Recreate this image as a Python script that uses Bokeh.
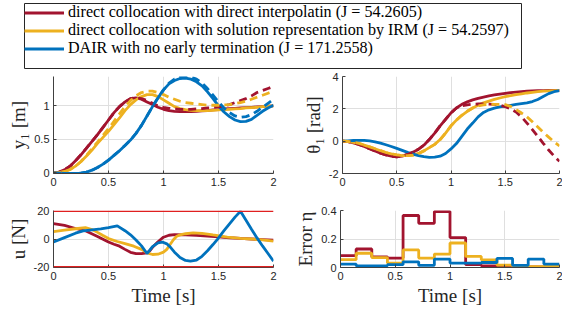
from bokeh.plotting import figure
from bokeh.layouts import column, row
from bokeh.models import Legend, LegendItem, FixedTicker, Range1d, Span
from bokeh.embed import file_html
from bokeh.resources import INLINE

RED = "#A2142F"
YEL = "#EDB120"
BLU = "#0072BD"

LEGEND_LABELS = [
    "direct collocation with direct interpolatin (J = 54.2605)",
    "direct collocation with solution representation by IRM (J = 54.2597)",
    "DAIR with no early termination (J = 171.2558)",
]

T = [0.0, 0.05, 0.1, 0.15, 0.2, 0.25, 0.3, 0.35, 0.4, 0.45, 0.5, 0.55, 0.6, 0.65, 0.7,
     0.75, 0.8, 0.85, 0.9, 0.95, 1.0, 1.05, 1.1, 1.15, 1.2, 1.25, 1.3, 1.35, 1.4, 1.45,
     1.5, 1.55, 1.6, 1.65, 1.7, 1.75, 1.8, 1.85, 1.9, 1.95, 2.0]

# y1 [m]
Y1_RED = [0, 0.01, 0.045, 0.1, 0.18, 0.27, 0.37, 0.47, 0.57, 0.68, 0.79, 0.9, 0.99, 1.06, 1.11,
          1.12, 1.1, 1.06, 1.02, 0.98, 0.95, 0.93, 0.92, 0.915, 0.915, 0.915, 0.92, 0.925, 0.93, 0.94,
          0.945, 0.955, 0.96, 0.965, 0.97, 0.975, 0.98, 0.985, 0.99, 0.995, 1.0]
Y1_RED_D = [0, 0.01, 0.045, 0.1, 0.18, 0.27, 0.37, 0.47, 0.57, 0.68, 0.79, 0.9, 0.99, 1.06, 1.11,
            1.12, 1.11, 1.08, 1.04, 1.0, 0.98, 0.965, 0.955, 0.95, 0.95, 0.95, 0.955, 0.96, 0.97, 0.975,
            0.985, 1.0, 1.02, 1.05, 1.08, 1.11, 1.15, 1.2, 1.23, 1.26, 1.29]
Y1_YEL = [0, 0.005, 0.02, 0.05, 0.1, 0.17, 0.25, 0.34, 0.44, 0.53, 0.62, 0.72, 0.82, 0.93, 1.02,
          1.09, 1.14, 1.17, 1.17, 1.14, 1.09, 1.04, 0.99, 0.96, 0.945, 0.935, 0.93, 0.93, 0.93, 0.935,
          0.94, 0.945, 0.95, 0.955, 0.96, 0.97, 0.975, 0.98, 0.99, 0.995, 1.0]
Y1_YEL_D = [0, 0.005, 0.02, 0.05, 0.1, 0.17, 0.26, 0.36, 0.46, 0.56, 0.66, 0.77, 0.88, 0.99, 1.08,
            1.15, 1.2, 1.22, 1.22, 1.2, 1.17, 1.13, 1.1, 1.07, 1.05, 1.04, 1.03, 1.02, 1.01, 1.01,
            1.01, 1.015, 1.02, 1.035, 1.05, 1.07, 1.1, 1.13, 1.16, 1.19, 1.22]
Y1_BLU = [0, -0.003, -0.007, -0.01, -0.01, -0.005, 0.01, 0.04, 0.08, 0.13, 0.19, 0.26, 0.33, 0.41, 0.49,
          0.59, 0.71, 0.85, 0.99, 1.12, 1.24, 1.33, 1.38, 1.41, 1.415, 1.4, 1.36, 1.3, 1.21, 1.11,
          1.0, 0.91, 0.84, 0.79, 0.765, 0.77, 0.8, 0.86, 0.92, 0.97, 1.01]
Y1_BLU_D = [0, -0.003, -0.007, -0.01, -0.01, -0.005, 0.01, 0.04, 0.08, 0.13, 0.19, 0.26, 0.33, 0.41, 0.49,
            0.59, 0.71, 0.85, 0.99, 1.12, 1.24, 1.34, 1.4, 1.43, 1.44, 1.43, 1.4, 1.34, 1.26, 1.16,
            1.06, 0.97, 0.9, 0.85, 0.83, 0.84, 0.87, 0.92, 0.98, 1.04, 1.1]

# theta1 [rad]
TH_RED = [0, -0.03, -0.1, -0.2, -0.33, -0.47, -0.61, -0.74, -0.85, -0.93, -0.97, -0.93, -0.82, -0.68, -0.5,
          -0.25, 0.1, 0.5, 0.95, 1.35, 1.75, 2.05, 2.28, 2.43, 2.55, 2.65, 2.73, 2.8, 2.86, 2.91,
          2.96, 3.0, 3.03, 3.06, 3.09, 3.11, 3.12, 3.13, 3.14, 3.14, 3.14]
TH_RED_D = [0, -0.03, -0.1, -0.2, -0.33, -0.47, -0.61, -0.74, -0.85, -0.93, -0.97, -0.93, -0.82, -0.68, -0.5,
            -0.25, 0.1, 0.5, 0.95, 1.35, 1.75, 2.05, 2.18, 2.25, 2.29, 2.3, 2.3, 2.29, 2.27, 2.22,
            2.13, 2.0, 1.8, 1.5, 1.12, 0.72, 0.3, -0.13, -0.55, -0.92, -1.25]
TH_YEL = [0, -0.02, -0.07, -0.14, -0.24, -0.35, -0.47, -0.59, -0.7, -0.79, -0.85, -0.89, -0.9, -0.86, -0.76,
          -0.6, -0.4, -0.2, 0.1, 0.5, 0.95, 1.3, 1.6, 1.85, 2.05, 2.22, 2.37, 2.48, 2.58, 2.67,
          2.75, 2.82, 2.88, 2.93, 2.98, 3.02, 3.06, 3.09, 3.11, 3.13, 3.14]
TH_YEL_D = [0, -0.02, -0.07, -0.14, -0.24, -0.35, -0.47, -0.59, -0.7, -0.79, -0.85, -0.89, -0.9, -0.86, -0.76,
            -0.6, -0.4, -0.2, 0.1, 0.5, 0.95, 1.3, 1.6, 1.85, 2.05, 2.18, 2.24, 2.27, 2.28, 2.28,
            2.26, 2.15, 1.96, 1.74, 1.5, 1.2, 0.88, 0.55, 0.25, -0.04, -0.3]
TH_BLU = [0, 0.02, 0.04, 0.05, 0.05, 0.02, -0.04, -0.12, -0.22, -0.33, -0.45, -0.57, -0.69, -0.8, -0.89,
          -0.96, -1.0, -0.99, -0.93, -0.76, -0.48, -0.15, 0.3, 0.75, 1.12, 1.5, 1.78, 1.94, 2.04, 2.12,
          2.17, 2.22, 2.27, 2.32, 2.37, 2.45, 2.58, 2.76, 2.94, 3.06, 3.12]

# u [N]
T_U_RED = [0, 0.1, 0.2, 0.3, 0.4, 0.5, 0.55, 0.6, 0.65, 0.7, 0.75, 0.8, 0.85, 0.875, 0.9, 0.95,
           1.0, 1.05, 1.1, 1.2, 1.3, 1.4, 1.5, 1.6, 1.7, 1.8, 1.9, 2.0]
U_RED = [11.2, 9.8, 7.6, 5.6, 1.8, -2.2, -3.8, -5.2, -7.5, -9.6, -10.6, -10.6, -10.0, -8.5, -6.0, -2.0,
         1.3, 2.7, 3.1, 3.0, 2.6, 2.1, 1.5, 0.9, 0.4, 0.0, -0.4, -0.8]
T_U_YEL = [0, 0.1, 0.2, 0.29, 0.35, 0.4, 0.45, 0.5, 0.58, 0.65, 0.73, 0.8, 0.85, 0.9, 0.95, 1.0,
           1.03, 1.06, 1.09, 1.12, 1.15, 1.2, 1.27, 1.35, 1.45, 1.58, 1.7, 1.8, 1.9, 2.0]
U_YEL = [5.4, 6.4, 7.4, 8.2, 6.8, 4.8, 2.5, 0.3, -1.8, -3.3, -5.2, -7.5, -10.0, -11.2, -11.0, -9.5,
         -7.5, -4.0, -0.5, 2.0, 3.0, 3.8, 4.4, 4.1, 2.9, 1.4, 0.5, 0.0, -0.7, -1.5]
T_U_BLU = [0, 0.1, 0.2, 0.27, 0.35, 0.43, 0.5, 0.58, 0.65, 0.7, 0.75, 0.8, 0.85, 0.9, 0.95, 0.99,
           1.03, 1.06, 1.1, 1.15, 1.2, 1.245, 1.3, 1.35, 1.4, 1.45, 1.49, 1.55, 1.6, 1.65, 1.7,
           1.75, 1.8, 1.85, 1.9, 1.95, 2.0]
U_BLU = [-2.2, 1.0, 4.2, 5.9, 6.6, 7.3, 8.2, 9.5, 6.0, 3.0, -0.7, -5.0, -10.5, -5.5, -2.8, -2.2,
         -3.5, -5.7, -9.5, -13.3, -15.5, -16.0, -15.2, -12.5, -8.5, -4.0, -0.2, 6.0, 11.0, 15.8, 20.0,
         13.5, 7.0, 0.8, -5.0, -10.5, -16.0]
U_LIMITS = [-20, 20]

# Error eta (14 intervals)
EDGES = [0.0, 0.1429, 0.2857, 0.4286, 0.5714, 0.7143, 0.8571, 1.0, 1.1429, 1.2857,
         1.4286, 1.5714, 1.7143, 1.8571, 2.0]
ERR_RED = [0.083, 0.13, 0.075, 0.066, 0.365, 0.31, 0.393, 0.21, 0.02, 0.012, 0.005, 0.004, 0.004, 0.005]
ERR_YEL = [0.055, 0.1, 0.07, 0.031, 0.123, 0.066, 0.094, 0.172, 0.078, 0.054, 0.017, 0.008, 0.006, 0.01]
ERR_BLU = [0.024, 0.012, 0.012, 0.02, 0.04, 0.015, 0.059, 0.031, 0.031, 0.035, 0.064, 0.015, 0.059, 0.024]

X_TICKS = [0, 0.5, 1, 1.5, 2]
X_TICK_LABELS = ["0", "0.5", "1", "1.5", "2"]

SERIF = "Liberation Serif"
SANS = "Liberation Sans"
AX = "#404040"
LW = 2.8
DASH = "8 5"
NAN = float("nan")


def make_fig(width, height, left, right, top, bottom, yr, yticks, ylabels, ylabel, xlabel=None):
    p = figure(width=width, height=height, x_range=Range1d(0, 2), y_range=Range1d(*yr),
               output_backend="svg", toolbar_location=None,
               min_border_left=left, min_border_right=right,
               min_border_top=top, min_border_bottom=bottom)
    p.outline_line_color = None
    p.background_fill_color = "white"
    p.border_fill_color = "white"
    p.xaxis.ticker = FixedTicker(ticks=X_TICKS)
    p.xaxis.major_label_overrides = {float(k): v for k, v in zip(X_TICKS, X_TICK_LABELS)}
    p.yaxis.ticker = FixedTicker(ticks=yticks)
    p.yaxis.major_label_overrides = {float(k): v for k, v in zip(yticks, ylabels)}
    for ax in (p.xaxis, p.yaxis):
        ax.major_tick_in = 3
        ax.major_tick_out = 0
        ax.minor_tick_line_color = None
        ax.axis_line_color = AX
        ax.major_tick_line_color = AX
        ax.major_label_text_font = SANS
        ax.major_label_text_font_size = "11px"
        ax.major_label_text_color = "#262626"
        ax.major_label_standoff = 4
        ax.axis_label_text_font = SERIF
        ax.axis_label_text_font_size = "19px"
        ax.axis_label_text_font_style = "normal"
        ax.axis_label_text_color = "#262626"
        ax.axis_label_standoff = 2
    p.yaxis.axis_label = ylabel
    if xlabel:
        p.xaxis.axis_label = xlabel
    p.grid.grid_line_color = "#DFDFDF"
    p.grid.grid_line_width = 1
    return p


# legend figure
pl = figure(width=562, height=71, x_range=Range1d(0, 1), y_range=Range1d(0, 1),
            x_axis_type=None, y_axis_type=None, output_backend="svg", toolbar_location=None,
            min_border_left=24, min_border_right=41, min_border_top=3, min_border_bottom=3)
pl.grid.visible = False
pl.outline_line_color = "#262626"
pl.outline_line_width = 1
items = []
for lab, col in zip(LEGEND_LABELS, [RED, YEL, BLU]):
    r = pl.line(x=[NAN, NAN], y=[NAN, NAN], line_color=col, line_width=LW)
    items.append(LegendItem(label=lab, renderers=[r]))
leg = Legend(items=items, location="top_left", margin=0, padding=4, spacing=0,
             glyph_width=40, glyph_height=17, label_height=17, label_standoff=4,
             label_text_font=SERIF, label_text_font_size="16.1px", label_text_color="#000000",
             border_line_color=None, background_fill_alpha=0)
pl.add_layout(leg)

# top-left: y1
p1 = make_fig(290, 129, 53, 17, 4, 27, (-0.01, 1.44), [0, 0.5, 1], ["0", "0.5", "1"], "y₁ [m]")
for ys, col in [(Y1_RED, RED), (Y1_YEL, YEL), (Y1_BLU, BLU)]:
    p1.line(T, ys, line_color=col, line_width=LW)
for ys, col in [(Y1_RED_D, RED), (Y1_YEL_D, YEL), (Y1_BLU_D, BLU)]:
    p1.line(T, ys, line_color=col, line_width=LW, line_dash=DASH)

# top-right: theta1
p2 = make_fig(272, 129, 52, 3, 5, 24, (-2, 4), [-2, 0, 2, 4], ["-2", "0", "2", "4"], "θ₁ [rad]")
for ys, col in [(TH_RED, RED), (TH_YEL, YEL), (TH_BLU, BLU)]:
    p2.line(T, ys, line_color=col, line_width=LW)
for ys, col in [(TH_RED_D, RED), (TH_YEL_D, YEL)]:
    p2.line(T, ys, line_color=col, line_width=LW, line_dash=DASH)

# bottom-left: u
p3 = make_fig(290, 113, 53, 17, 8, 46, (-20.6, 20.6), [-20, 0, 20], ["-20", "0", "20"], "u [N]", "Time [s]")
for tt, ys, col in [(T_U_RED, U_RED, RED), (T_U_YEL, U_YEL, YEL), (T_U_BLU, U_BLU, BLU)]:
    p3.line(tt, ys, line_color=col, line_width=LW)
for lim in U_LIMITS:
    p3.add_layout(Span(location=lim, dimension="width", line_color="#E02020", line_width=1.5))

# bottom-right: error
p4 = make_fig(272, 113, 50, 3, 10, 46, (0, 0.4), [0, 0.2, 0.4], ["0", "0.2", "0.4"], "Error η", "Time [s]")
for ys, col in [(ERR_RED, RED), (ERR_YEL, YEL), (ERR_BLU, BLU)]:
    p4.step(EDGES, ys + [ys[-1]], mode="after", line_color=col, line_width=LW)

layout = column(pl, row(p1, p2), row(p3, p4))
open("out.html", "w").write(file_html(layout, INLINE))
